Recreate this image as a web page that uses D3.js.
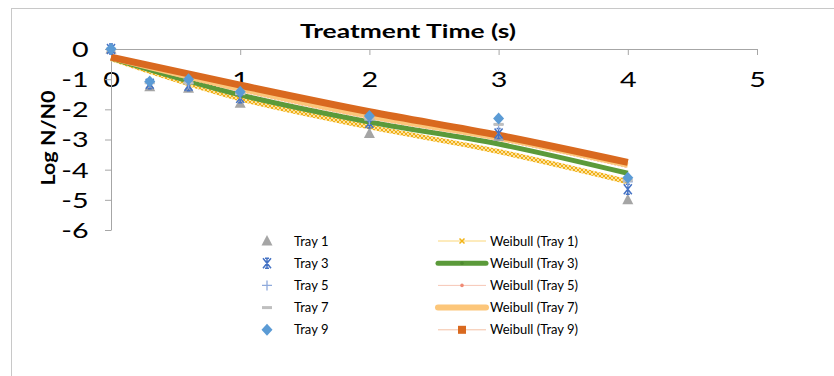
<!DOCTYPE html>
<html>
<head>
<meta charset="utf-8">
<script src="https://cdn.jsdelivr.net/npm/d3@7"></script>
<style>
  html, body { margin: 0; padding: 0; background: #fff; }
  svg { display: block; font-family: Lato, "Open Sans", "Liberation Sans", sans-serif; }
</style>
</head>
<body>
<svg id="chart" width="834" height="376"></svg>
<script>
// Measured survival (log reduction) per tray
const times = [0, 0.3, 0.6, 1, 2, 3, 4];
const tray1 = [0, -1.25, -1.3, -1.8, -2.8, -2.9, -5.0];
const tray3 = [0, -1.15, -1.22, -1.62, -2.45, -2.8, -4.65];
const tray5 = [0, -1.12, -1.15, -1.5, -2.35, -2.5, -4.4];
const tray7 = [0, -1.12, -1.12, -1.48, -2.32, -2.5, -4.35];
const tray9 = [0, -1.08, -1.0, -1.42, -2.22, -2.3, -4.27];

// Weibull fit curves per tray
const fitTimes = [0, 1, 2, 3, 4];
const fit1 = [-0.32, -1.65, -2.58, -3.4, -4.4];
const fit3 = [-0.3, -1.52, -2.42, -3.15, -4.12];
const fit5 = [-0.3, -1.4, -2.3, -3.02, -3.92];
const fit7 = [-0.29, -1.32, -2.22, -2.95, -3.85];
const fit9 = [-0.27, -1.2, -2.08, -2.86, -3.76];

const xTicks = [0, 1, 2, 3, 4, 5];
const yTicks = [0, -1, -2, -3, -4, -5, -6];

const svg = d3.select("#chart");
const x = d3.scaleLinear().domain([0, 5]).range([111, 757]);
const y = d3.scaleLinear().domain([0, -6]).range([49, 230]);

// chart frame
svg.append("rect").attr("x", 11.5).attr("y", 8.5).attr("width", 840).attr("height", 400)
  .attr("fill", "none").attr("stroke", "#c8c8c8").attr("stroke-width", 1);

// hatch paint for the Tray 1 fit
const defs = svg.append("defs");
const pat = defs.append("pattern").attr("id", "xhatch").attr("patternUnits", "userSpaceOnUse")
  .attr("width", 4).attr("height", 4);
pat.append("rect").attr("width", 4).attr("height", 4).attr("fill", "#fde3a0");
pat.append("path").attr("d", "M0,0L4,4M4,0L0,4").attr("stroke", "#f0b01a").attr("stroke-width", 1);

// plain hyphen-minus labels
const fmt = d => String(d);

// axes
const xAxis = d3.axisBottom(x).tickValues(xTicks).tickSize(6).tickSizeOuter(0).tickFormat(fmt);
const gx = svg.append("g").attr("transform", `translate(0,${y(0)})`).call(xAxis);
gx.select(".domain").attr("stroke", "#a6a6a6");
gx.selectAll(".tick line").attr("stroke", "#a6a6a6");
gx.selectAll(".tick text").attr("font-size", 20.5).attr("fill", "#000").attr("dy", 0).attr("y", 38)
  .attr("font-family", "Lato, sans-serif").attr("transform", "scale(1.4,1)");

const yAxis = d3.axisLeft(y).tickValues(yTicks).tickSize(6).tickSizeOuter(0).tickFormat(fmt);
const gy = svg.append("g").attr("transform", `translate(${x(0)},0)`).call(yAxis);
gy.select(".domain").attr("stroke", "#a6a6a6");
gy.selectAll(".tick line").attr("stroke", "#a6a6a6");
gy.selectAll(".tick text").attr("font-size", 20.5).attr("fill", "#000").attr("x", -16).attr("dy", "0.36em")
  .attr("font-family", "Lato, sans-serif").attr("transform", "scale(1.4,1)");

// titles
svg.append("text").attr("x", 408).attr("y", 38).attr("text-anchor", "middle")
  .attr("font-size", 19.5).attr("font-weight", "bold")
  .attr("textLength", 216).attr("lengthAdjust", "spacingAndGlyphs").text("Treatment Time (s)");
svg.append("text").attr("transform", "translate(55,138) rotate(-90)").attr("text-anchor", "middle")
  .attr("font-size", 19.5).attr("font-weight", "bold")
  .attr("textLength", 95).attr("lengthAdjust", "spacingAndGlyphs").text("Log N/N0");

// fit curves
const line = d3.line().x(d => x(d[0])).y(d => y(d[1])).curve(d3.curveMonotoneX);
const fits = [
  { name: "Weibull (Tray 1)", vals: fit1, stroke: "url(#xhatch)", width: 5, marker: "x", mcolor: "#f2b417", lw: 1, lcolor: "#fbd77a" },
  { name: "Weibull (Tray 3)", vals: fit3, stroke: "#5b9a3a", width: 5, marker: "dot", mcolor: "#4e8a30", lw: 5, lcolor: "#5b9a3a" },
  { name: "Weibull (Tray 5)", vals: fit5, stroke: "#f6bfae", width: 2, marker: "dot", mcolor: "#f08a74", lw: 1, lcolor: "#f6c6b6", dash: "2,1.5" },
  { name: "Weibull (Tray 7)", vals: fit7, stroke: "#fcc67a", width: 5.5, marker: "none", mcolor: "#fcc67a", lw: 6, lcolor: "#fcc67a" },
  { name: "Weibull (Tray 9)", vals: fit9, stroke: "#d9691f", width: 7, marker: "square", mcolor: "#d9691f", lw: 1, lcolor: "#f4c0a4" }
];
fits.forEach(f => {
  const p = svg.append("path").datum(fitTimes.map((t, i) => [t, f.vals[i]]))
    .attr("d", line).attr("fill", "none").attr("stroke", f.stroke).attr("stroke-width", f.width);
  if (f.dash) p.attr("stroke-dasharray", f.dash);
});

// marker glyphs
function drawMarker(g, type, cx, cy, color) {
  if (type === "triangle") {
    g.append("path").attr("d", `M${cx},${cy - 6}L${cx + 5.5},${cy + 4.5}L${cx - 5.5},${cy + 4.5}Z`).attr("fill", color);
  } else if (type === "star") {
    g.append("path").attr("d", `M${cx - 4},${cy - 5}L${cx + 4},${cy + 5}M${cx + 4},${cy - 5}L${cx - 4},${cy + 5}M${cx},${cy - 5}L${cx},${cy + 5}M${cx - 2},${cy - 5}L${cx + 2},${cy - 5}M${cx - 2},${cy + 5}L${cx + 2},${cy + 5}`)
      .attr("stroke", color).attr("stroke-width", 1.5).attr("fill", "none");
  } else if (type === "plus") {
    g.append("path").attr("d", `M${cx - 5},${cy}L${cx + 5},${cy}M${cx},${cy - 5}L${cx},${cy + 5}`)
      .attr("stroke", color).attr("stroke-width", 1.3);
  } else if (type === "dash") {
    g.append("rect").attr("x", cx - 5).attr("y", cy - 1.5).attr("width", 10).attr("height", 3).attr("fill", color);
  } else if (type === "diamond") {
    g.append("path").attr("d", `M${cx},${cy - 6}L${cx + 5.5},${cy}L${cx},${cy + 6}L${cx - 5.5},${cy}Z`).attr("fill", color);
  } else if (type === "x") {
    g.append("path").attr("d", `M${cx - 2.5},${cy - 2.5}L${cx + 2.5},${cy + 2.5}M${cx + 2.5},${cy - 2.5}L${cx - 2.5},${cy + 2.5}`)
      .attr("stroke", color).attr("stroke-width", 1.5);
  } else if (type === "dot") {
    g.append("circle").attr("cx", cx).attr("cy", cy).attr("r", 1.8).attr("fill", color);
  } else if (type === "square") {
    g.append("rect").attr("x", cx - 4).attr("y", cy - 4).attr("width", 8).attr("height", 8).attr("fill", color);
  }
}

// measured points
const trays = [
  { name: "Tray 1", vals: tray1, marker: "triangle", color: "#a5a5a5" },
  { name: "Tray 3", vals: tray3, marker: "star", color: "#4472c4" },
  { name: "Tray 5", vals: tray5, marker: "plus", color: "#8faadc" },
  { name: "Tray 7", vals: tray7, marker: "dash", color: "#bfbfbf" },
  { name: "Tray 9", vals: tray9, marker: "diamond", color: "#5b9bd5" }
];
trays.forEach(s => {
  const g = svg.append("g");
  times.forEach((t, i) => drawMarker(g, s.marker, x(t), y(s.vals[i]), s.color));
});

// legend
const rowY = i => 241 + i * 22.2;
const leg = svg.append("g").attr("font-size", 13).attr("fill", "#000");
trays.forEach((s, i) => {
  drawMarker(leg, s.marker, 267, rowY(i), s.color);
  leg.append("text").attr("x", 294).attr("y", rowY(i)).attr("dy", "0.35em").text(s.name);
});
fits.forEach((f, i) => {
  leg.append("line").attr("x1", 438).attr("x2", 486).attr("y1", rowY(i)).attr("y2", rowY(i))
    .attr("stroke", f.lcolor).attr("stroke-width", f.lw).attr("stroke-linecap", f.lw > 2 ? "round" : "butt");
  if (f.marker !== "none") drawMarker(leg, f.marker, 462, rowY(i), f.mcolor);
  leg.append("text").attr("x", 490).attr("y", rowY(i)).attr("dy", "0.35em").text(f.name);
});
</script>
</body>
</html>
